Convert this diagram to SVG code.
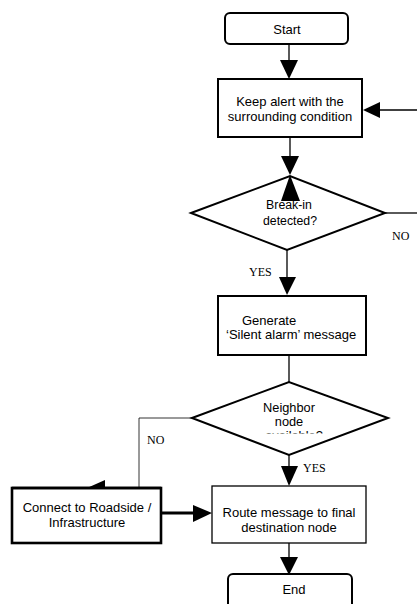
<svg xmlns="http://www.w3.org/2000/svg" width="417" height="604" viewBox="0 0 417 604">
<style>
  .box { fill: #fff; stroke: #000; stroke-width: 2; }
  .thin { fill: #fff; stroke: #000; stroke-width: 1.3; }
  .thick { fill: #fff; stroke: #000; stroke-width: 2.6; }
  .t { font-family: "Liberation Sans", Arial, sans-serif; font-size: 13px; fill: #000; text-anchor: middle; }
  .d { font-family: "Liberation Sans", Arial, sans-serif; font-size: 12.3px; fill: #000; text-anchor: middle; }
  .lbl { font-family: "Liberation Serif", "Times New Roman", serif; font-size: 12px; fill: #000; }
  .ln { fill: none; stroke: #000; stroke-width: 1.3; }
  .hair { fill: none; stroke: #000; stroke-width: 0.8; }
  .head { fill: #000; stroke: none; }
</style>
<defs>
  <clipPath id="clipAvail"><rect x="240" y="420" width="100" height="13.5"/></clipPath>
</defs>
<rect width="417" height="604" fill="#fff"/>

<g id="connectors">
  <!-- Start -> Keep alert -->
  <line class="ln" x1="289" y1="44" x2="289" y2="62"/>
  <polygon class="head" points="280,60 298,60 289,79"/>
  <!-- loop back into Keep alert from right -->
  <line class="ln" x1="417" y1="110" x2="378" y2="110"/>
  <polygon class="head" points="380,102 380,118 363,110"/>
  <!-- Keep alert -> diamond 1 -->
  <line class="ln" x1="290" y1="137" x2="290" y2="158"/>
  <polygon class="head" points="281,156 299,156 290,175"/>
  <!-- diamond 1 right NO line -->
  <line class="ln" x1="385" y1="213" x2="417" y2="213"/>
  <!-- diamond 1 -> Generate -->
  <line class="ln" x1="287" y1="250" x2="287" y2="279"/>
  <polygon class="head" points="279,277 296,277 287,295"/>
  <!-- Generate -> diamond 2 -->
  <line class="ln" x1="289" y1="355" x2="289" y2="382"/>
  <!-- diamond 2 NO branch -->
  <polyline class="hair" points="192,418 139,418 139,488"/>
  <polygon class="head" points="105,480 105,497 87,488"/>
  <!-- diamond 2 YES -> Route -->
  <line class="ln" x1="289" y1="455" x2="289" y2="468"/>
  <polygon class="head" points="281,466 298,466 289,486"/>
  <!-- Connect -> Route -->
  <line fill="none" stroke="#000" stroke-width="3" x1="161" y1="513" x2="195" y2="513"/>
  <polygon class="head" points="193,505 193,522 212,513"/>
  <!-- Route -> End -->
  <line class="ln" x1="289" y1="543" x2="289" y2="559"/>
  <polygon class="head" points="280,557 298,557 289,575"/>
</g>

<g id="start">
  <rect class="box" x="225" y="13" width="123" height="31" rx="5"/>
  <text class="t" x="287" y="34">Start</text>
</g>

<g id="keep-alert">
  <rect class="box" x="218" y="79" width="144" height="58"/>
  <text class="t" x="290" y="106">Keep alert with the</text>
  <text class="t" x="290" y="121">surrounding condition</text>
</g>

<g id="break-in">
  <polygon class="box" points="191,213 290,176 385,213 287,250"/>
  <text class="d" x="289" y="209">Break-in</text>
  <text class="d" x="290" y="225">detected?</text>
  <polygon class="head" points="290,175 281,201 300,201"/>
  <text class="lbl" x="392" y="240">NO</text>
  <text class="lbl" x="249" y="276">YES</text>
</g>

<g id="generate">
  <rect class="box" x="218" y="296" width="148" height="59"/>
  <text class="t" x="242" y="325" style="text-anchor:start">Generate</text>
  <text class="t" x="226" y="339" style="text-anchor:start">‘Silent alarm’ message</text>
</g>

<g id="neighbor">
  <polygon class="box" points="192,418 289,382 388,418 289,455"/>
  <text class="d" x="289" y="412" style="font-size:12.8px">Neighbor</text>
  <text class="d" x="289" y="426" style="font-size:12.8px">node</text>
  <text class="d" x="294" y="440" style="font-size:12.8px" clip-path="url(#clipAvail)">available?</text>
  <text class="lbl" x="147" y="444">NO</text>
  <text class="lbl" x="303" y="472">YES</text>
</g>

<g id="connect">
  <rect class="thick" x="12" y="488" width="149" height="55"/>
  <line stroke="#000" stroke-width="2.6" x1="12" y1="488" x2="161" y2="488"/>
  <text class="t" x="87" y="512">Connect to Roadside /</text>
  <text class="t" x="87" y="527">Infrastructure</text>
</g>

<g id="route">
  <rect class="thin" x="212" y="486" width="154" height="57"/>
  <text class="t" x="289" y="517">Route message to final</text>
  <text class="t" x="289" y="532">destination node</text>
</g>

<g id="end">
  <rect class="box" x="228" y="574" width="124" height="40" rx="5"/>
  <text class="t" x="294" y="594">End</text>
</g>
</svg>
